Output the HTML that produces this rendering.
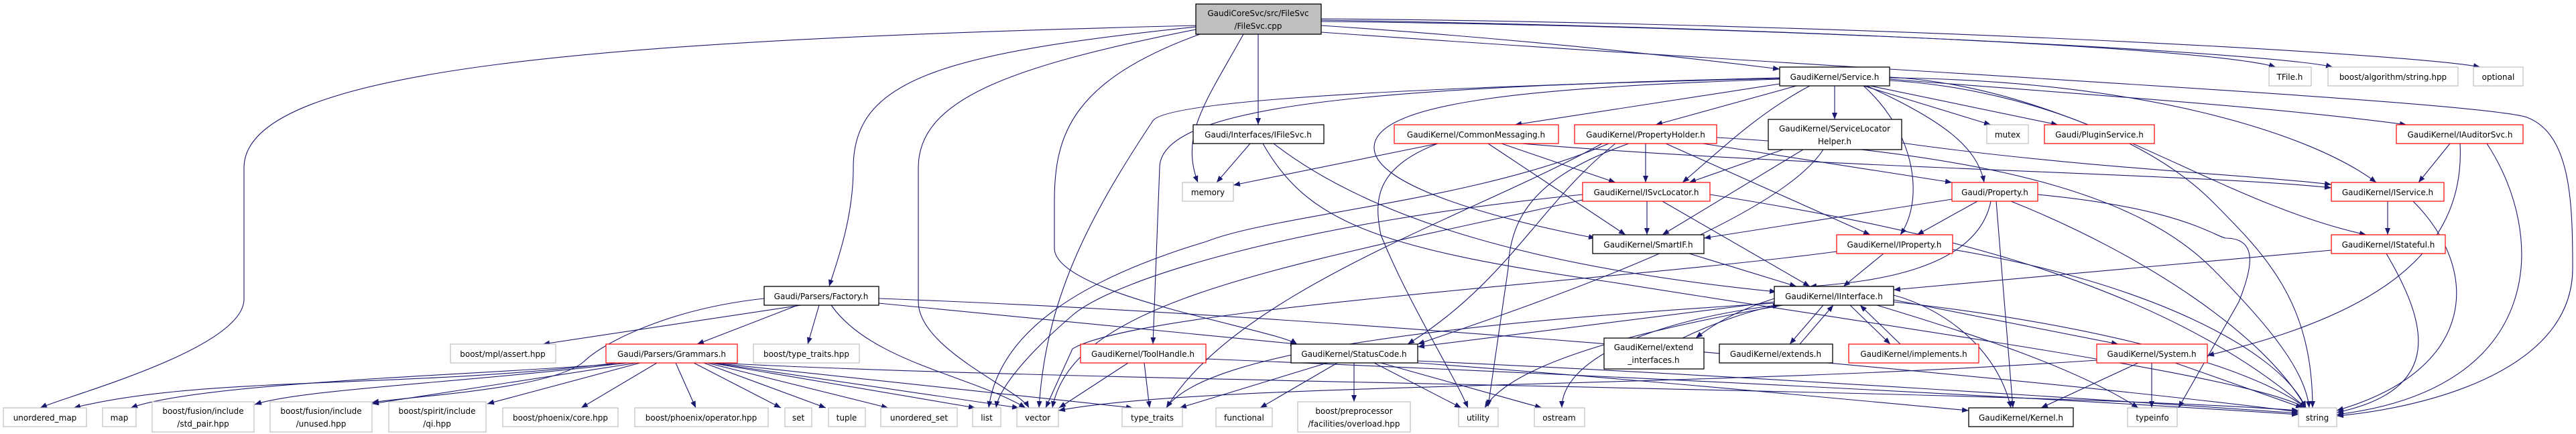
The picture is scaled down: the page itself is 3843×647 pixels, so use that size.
<!DOCTYPE html>
<html><head><meta charset="utf-8">
<style>
html,body{margin:0;padding:0;background:#fff;}
svg{display:block;}
text{font-family:"DejaVu Sans","Liberation Sans",sans-serif;font-size:12px;fill:#000;}
.e{fill:none;stroke:#191970;stroke-width:1.1;marker-end:url(#a);}
.nb{fill:#fff;stroke:#000;stroke-width:1.3;}
.nr{fill:#fff;stroke:#f00;stroke-width:1.2;}
.ng{fill:#fff;stroke:#bfbfbf;stroke-width:1.2;}
</style></head><body>
<svg width="3843" height="647" viewBox="0 0 3843 647" xmlns="http://www.w3.org/2000/svg">
<defs><marker id="a" markerWidth="10" markerHeight="8" refX="10" refY="4" orient="auto" markerUnits="userSpaceOnUse"><path d="M0,0 L10,4 L0,8 z" fill="#191970"/></marker></defs>
<g>
<!-- FileSvc edges -->
<path class="e" d="M1784 38 C900 60,364 100,364 250 L364 446 C364 520,100 590,60 608"/>
<path class="e" d="M1784 40 C1400 80,1273 120,1273 250 C1273 330,1245 400,1237 427"/>
<path class="e" d="M1784 44 C1500 100,1370 150,1370 250 L1370 450 C1370 520,1520 580,1535 608"/>
<path class="e" d="M1790 51 C1600 120,1573 200,1573 300 L1573 370 C1573 440,1900 490,1935 513"/>
<path class="e" d="M1855 51 C1800 150,1760 200,1787 272"/>
<path class="e" d="M1877 51 L1877 186"/>
<path class="e" d="M1971 38 C2300 60,2550 90,2655 103"/>
<path class="e" d="M1971 30 C2600 40,3300 70,3395 100"/>
<path class="e" d="M1971 32 C2700 40,3400 80,3480 100"/>
<path class="e" d="M1971 28 C2800 35,3600 80,3700 100"/>
<path class="e" d="M1971 48 C2700 100,3700 150,3770 175 C3835 200,3838 300,3838 400 C3838 560,3600 610,3486 620"/>
<!-- Service.h -->
<path class="e" d="M2737 128 L2737 178"/>
<path class="e" d="M2780 128 L2970 186"/>
<path class="e" d="M2790 128 L3070 186"/>
<path class="e" d="M2819 118 C3100 140,3400 160,3590 186"/>
<path class="e" d="M2819 116 C3200 120,3450 200,3545 272"/>
<path class="e" d="M2819 115 C3100 130,3300 300,3530 350"/>
<path class="e" d="M2819 120 C3000 130,3200 200,3300 300 C3380 380,3450 450,3450 608"/>
<path class="e" d="M2785 128 C2900 180,2950 220,2960 272"/>
<path class="e" d="M2780 128 C2860 200,2870 300,2835 350"/>
<path class="e" d="M2655 125 L2260 186"/>
<path class="e" d="M2680 128 L2470 186"/>
<path class="e" d="M2700 128 C2620 170,2560 230,2510 272"/>
<path class="e" d="M2655 118 C2300 130,2050 150,2050 220 C2050 280,2250 330,2380 355"/>
<path class="e" d="M2655 116 C2100 130,1730 150,1730 250 L1720 513"/>
<path class="e" d="M2655 117 C2100 130,1740 150,1720 180 C1620 330,1560 450,1550 608"/>
<!-- IFileSvc -->
<path class="e" d="M1865 214 L1815 272"/>
<path class="e" d="M1884 214 C1950 330,2050 370,2400 420 C2900 500,3350 560,3440 608"/>
<path class="e" d="M1900 214 C2050 330,2300 400,2650 435"/>
<!-- CommonMessaging -->
<path class="e" d="M2145 214 L1840 276"/>
<path class="e" d="M2240 214 L2410 272"/>
<path class="e" d="M2220 214 L2425 350"/>
<path class="e" d="M2145 214 C2050 250,2050 300,2060 350 C2100 450,2170 560,2190 608"/>
<path class="e" d="M2270 214 C2700 250,3300 260,3478 280"/>
<!-- PropertyHolder -->
<path class="e" d="M2455 214 L2455 272"/>
<path class="e" d="M2485 214 L2790 350"/>
<path class="e" d="M2540 214 L2912 272"/>
<path class="e" d="M2400 214 C2200 300,1900 320,1800 360 C1600 420,1490 500,1475 608"/>
<path class="e" d="M2410 214 C2300 300,2250 420,2100 513"/>
<path class="e" d="M2430 214 C2300 260,2253 315,2250 400 L2220 606"/>
<path class="e" d="M2390 214 C2200 320,1850 430,1740 608"/>
<path class="e" d="M2561 205 C3000 230,3200 300,3300 400 C3400 500,3440 560,3445 608"/>
<!-- ISvcLocator -->
<path class="e" d="M2457 300 L2457 350"/>
<path class="e" d="M2480 300 L2700 427"/>
<path class="e" d="M2361 290 C1938 332,1664 415,1600 470 C1530 530,1490 580,1486 608"/>
<path class="e" d="M2361 298 C1900 400,1600 450,1570 608"/>
<path class="e" d="M2551 290 C2800 330,3200 400,3440 608"/>
<path class="e" d="M2520 378 L2680 427"/>
<!-- ServiceLocatorHelper -->
<path class="e" d="M2660 223 L2520 272"/>
<path class="e" d="M2690 223 L2480 350"/>
<path class="e" d="M2720 223 C2650 330,2300 450,2115 513"/>
<path class="e" d="M2837 213 C3100 250,3350 260,3478 275"/>
<!-- Property.h -->
<path class="e" d="M2950 300 L2860 350"/>
<path class="e" d="M2912 297 L2542 355"/>
<path class="e" d="M2970 300 C2950 400,2800 420,2700 427"/>
<path class="e" d="M2978 300 L3003 608"/>
<path class="e" d="M3000 300 C3200 380,3380 500,3440 608"/>
<path class="e" d="M3040 290 C3250 310,3300 350,3320 355 C3370 355,3360 400,3340 450 L3250 608"/>
<!-- IProperty -->
<path class="e" d="M2810 378 L2750 427"/>
<path class="e" d="M2913 372 C3200 420,3400 520,3440 608"/>
<path class="e" d="M2740 375 C2400 420,1700 460,1600 520 L1560 608"/>
<!-- IService / IStateful / IAuditorSvc -->
<path class="e" d="M3562 300 L3562 350"/>
<path class="e" d="M3600 300 C3700 400,3700 550,3486 612"/>
<path class="e" d="M3478 373 L2825 432"/>
<path class="e" d="M3560 378 C3620 480,3650 580,3486 615"/>
<path class="e" d="M3655 214 L3608 272"/>
<path class="e" d="M3670 214 C3680 400,3500 480,3293 530"/>
<path class="e" d="M3710 214 C3800 350,3800 580,3486 618"/>
<!-- IInterface -->
<path class="e" d="M2720 455 L2670 513"/>
<path class="e" d="M2685 513 L2735 455"/>
<path class="e" d="M2760 455 L2820 513"/>
<path class="e" d="M2835 513 L2775 455"/>
<path class="e" d="M2647 445 C2600 460,2560 480,2530 504"/>
<path class="e" d="M2510 504 C2560 480,2620 460,2655 455"/>
<path class="e" d="M2825 447 L3160 513"/>
<path class="e" d="M2825 440 C2900 460,2980 520,3000 608"/>
<path class="e" d="M2800 455 C2950 500,3100 550,3190 608"/>
<path class="e" d="M2825 450 C3100 480,3350 540,3440 608"/>
<path class="e" d="M2647 450 L2115 517"/>
<path class="e" d="M2647 452 C2200 480,1800 520,1740 608"/>
<path class="e" d="M2660 455 C2400 500,2250 550,2215 608"/>
<path class="e" d="M2650 455 C2450 480,2330 540,2330 608"/>
<!-- StatusCode -->
<path class="e" d="M1980 541 L1760 608"/>
<path class="e" d="M1995 541 L1880 608"/>
<path class="e" d="M2020 541 L2020 599"/>
<path class="e" d="M2050 541 L2180 608"/>
<path class="e" d="M2060 541 L2300 608"/>
<path class="e" d="M2115 538 C2600 560,3200 600,3429 616"/>
<path class="e" d="M2115 541 C2500 570,2800 600,2937 612"/>
<!-- ToolHandle -->
<path class="e" d="M1683 541 L1580 608"/>
<path class="e" d="M1707 541 L1715 608"/>
<path class="e" d="M1799 535 C2400 560,3000 590,3429 618"/>
<!-- System -->
<path class="e" d="M3190 541 L3045 608"/>
<path class="e" d="M3210 541 L3210 608"/>
<path class="e" d="M3245 541 L3435 608"/>
<path class="e" d="M3128 537 C2500 580,1800 570,1579 612"/>
<!-- Factory -->
<path class="e" d="M1195 455 L810 513"/>
<path class="e" d="M1190 455 L1040 513"/>
<path class="e" d="M1222 455 L1205 513"/>
<path class="e" d="M1240 455 C1300 540,1450 560,1530 608"/>
<path class="e" d="M1140 445 C1000 460,900 510,870 540 C820 580,620 590,555 600"/>
<path class="e" d="M1311 452 L1935 513"/>
<path class="e" d="M1311 445 C2000 470,3000 560,3429 614"/>
<!-- Grammars -->
<path class="e" d="M920 541 C600 580,300 560,110 608"/>
<path class="e" d="M940 541 C700 560,300 570,195 608"/>
<path class="e" d="M935 541 C700 570,450 580,380 603"/>
<path class="e" d="M950 541 L555 602"/>
<path class="e" d="M955 541 L727 602"/>
<path class="e" d="M980 541 L867 608"/>
<path class="e" d="M1008 541 L1038 608"/>
<path class="e" d="M1035 541 L1165 608"/>
<path class="e" d="M1050 541 L1232 608"/>
<path class="e" d="M1055 541 L1325 608"/>
<path class="e" d="M1060 541 L1455 608"/>
<path class="e" d="M1062 541 L1520 608"/>
<path class="e" d="M1065 541 L1690 608"/>
<path class="e" d="M1070 541 C1600 570,3000 580,3429 612"/>
</g>
<g text-anchor="middle">
<rect x="1784" y="6" width="187" height="45" fill="#bfbfbf" stroke="#000" stroke-width="1.3"/>
<text x="1877" y="24">GaudiCoreSvc/src/FileSvc</text><text x="1877" y="43">/FileSvc.cpp</text>

<rect class="nb" x="2655" y="100" width="164" height="28"/><text x="2737" y="119">GaudiKernel/Service.h</text>
<rect class="ng" x="3385" y="100" width="63" height="28"/><text x="3416" y="119">TFile.h</text>
<rect class="ng" x="3473" y="100" width="194" height="28"/><text x="3570" y="119">boost/algorithm/string.hpp</text>
<rect class="ng" x="3690" y="100" width="74" height="28"/><text x="3727" y="119">optional</text>

<rect class="nb" x="1780" y="186" width="195" height="28"/><text x="1877" y="205">Gaudi/Interfaces/IFileSvc.h</text>
<rect class="nr" x="2080" y="186" width="245" height="28"/><text x="2202" y="205">GaudiKernel/CommonMessaging.h</text>
<rect class="nr" x="2349" y="186" width="212" height="28"/><text x="2455" y="205">GaudiKernel/PropertyHolder.h</text>
<rect class="nb" x="2638" y="178" width="199" height="45"/><text x="2737" y="196">GaudiKernel/ServiceLocator</text><text x="2737" y="215">Helper.h</text>
<rect class="ng" x="2964" y="186" width="62" height="28"/><text x="2995" y="205">mutex</text>
<rect class="nr" x="3050" y="186" width="164" height="28"/><text x="3132" y="205">Gaudi/PluginService.h</text>
<rect class="nr" x="3575" y="186" width="189" height="28"/><text x="3670" y="205">GaudiKernel/IAuditorSvc.h</text>

<rect class="ng" x="1764" y="272" width="76" height="28"/><text x="1802" y="291">memory</text>
<rect class="nr" x="2361" y="272" width="190" height="28"/><text x="2456" y="291">GaudiKernel/ISvcLocator.h</text>
<rect class="nr" x="2912" y="272" width="128" height="28"/><text x="2976" y="291">Gaudi/Property.h</text>
<rect class="nr" x="3478" y="272" width="168" height="28"/><text x="3562" y="291">GaudiKernel/IService.h</text>

<rect class="nb" x="2376" y="350" width="166" height="28"/><text x="2459" y="369">GaudiKernel/SmartIF.h</text>
<rect class="nr" x="2740" y="350" width="173" height="28"/><text x="2826" y="369">GaudiKernel/IProperty.h</text>
<rect class="nr" x="3478" y="350" width="170" height="28"/><text x="3563" y="369">GaudiKernel/IStateful.h</text>

<rect class="nb" x="1140" y="427" width="171" height="28"/><text x="1225" y="446">Gaudi/Parsers/Factory.h</text>
<rect class="nb" x="2647" y="427" width="178" height="28"/><text x="2736" y="446">GaudiKernel/IInterface.h</text>

<rect class="ng" x="672" y="513" width="157" height="28"/><text x="750" y="532">boost/mpl/assert.hpp</text>
<rect class="nr" x="904" y="513" width="196" height="28"/><text x="1002" y="532">Gaudi/Parsers/Grammars.h</text>
<rect class="ng" x="1124" y="513" width="158" height="28"/><text x="1203" y="532">boost/type_traits.hpp</text>
<rect class="nr" x="1612" y="513" width="187" height="28"/><text x="1705" y="532">GaudiKernel/ToolHandle.h</text>
<rect class="nb" x="1926" y="513" width="189" height="28"/><text x="2020" y="532">GaudiKernel/StatusCode.h</text>
<rect class="nb" x="2393" y="504" width="149" height="46"/><text x="2467" y="522">GaudiKernel/extend</text><text x="2467" y="541">_interfaces.h</text>
<rect class="nb" x="2565" y="513" width="169" height="28"/><text x="2649" y="532">GaudiKernel/extends.h</text>
<rect class="nr" x="2758" y="513" width="194" height="28"/><text x="2855" y="532">GaudiKernel/implements.h</text>
<rect class="nr" x="3128" y="513" width="165" height="28"/><text x="3210" y="532">GaudiKernel/System.h</text>

<rect class="ng" x="5" y="608" width="124" height="28"/><text x="67" y="627">unordered_map</text>
<rect class="ng" x="153" y="608" width="50" height="28"/><text x="178" y="627">map</text>
<rect class="ng" x="227" y="599" width="152" height="45"/><text x="303" y="617">boost/fusion/include</text><text x="303" y="636">/std_pair.hpp</text>
<rect class="ng" x="403" y="599" width="152" height="45"/><text x="479" y="617">boost/fusion/include</text><text x="479" y="636">/unused.hpp</text>
<rect class="ng" x="580" y="599" width="145" height="45"/><text x="652" y="617">boost/spirit/include</text><text x="652" y="636">/qi.hpp</text>
<rect class="ng" x="750" y="608" width="172" height="28"/><text x="836" y="627">boost/phoenix/core.hpp</text>
<rect class="ng" x="947" y="608" width="199" height="28"/><text x="1046" y="627">boost/phoenix/operator.hpp</text>
<rect class="ng" x="1171" y="608" width="40" height="28"/><text x="1191" y="627">set</text>
<rect class="ng" x="1236" y="608" width="55" height="28"/><text x="1263" y="627">tuple</text>
<rect class="ng" x="1314" y="608" width="114" height="28"/><text x="1371" y="627">unordered_set</text>
<rect class="ng" x="1451" y="608" width="42" height="28"/><text x="1472" y="627">list</text>
<rect class="ng" x="1517" y="608" width="62" height="28"/><text x="1548" y="627">vector</text>
<rect class="ng" x="1674" y="608" width="90" height="28"/><text x="1719" y="627">type_traits</text>
<rect class="ng" x="1814" y="608" width="84" height="28"/><text x="1856" y="627">functional</text>
<rect class="ng" x="1936" y="599" width="168" height="45"/><text x="2020" y="617">boost/preprocessor</text><text x="2020" y="636">/facilities/overload.hpp</text>
<rect class="ng" x="2176" y="608" width="59" height="28"/><text x="2205" y="627">utility</text>
<rect class="ng" x="2289" y="608" width="75" height="28"/><text x="2326" y="627">ostream</text>
<rect class="nb" x="2937" y="608" width="156" height="28"/><text x="3015" y="627">GaudiKernel/Kernel.h</text>
<rect class="ng" x="3174" y="608" width="74" height="28"/><text x="3211" y="627">typeinfo</text>
<rect class="ng" x="3429" y="608" width="57" height="28"/><text x="3457" y="627">string</text>
</g>
</svg>
</body></html>
